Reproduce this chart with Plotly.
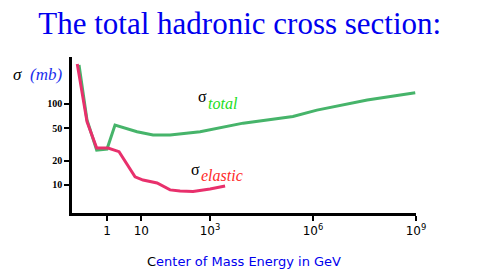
import plotly.graph_objects as go

# Data (energy in GeV, cross section in mb)
total_E = [0.153, 0.261, 0.50, 1.0, 1.71, 7.5, 21.9, 68.7, 514, 9230, 2.6e5, 1.3e6, 3.8e7, 9.5e8]
total_sigma = [303, 63.5, 27, 27.8, 55, 45.5, 41.4, 41.4, 45.5, 58, 70, 84, 112, 138]

elastic_E = [0.136, 0.261, 0.50, 1.07, 2.24, 6.55, 11.2, 28.7, 68.7, 134, 321, 1000, 2750]
elastic_sigma = [312, 60.4, 28.6, 28.6, 25.8, 12.6, 11.5, 10.6, 8.7, 8.4, 8.3, 8.9, 9.7]

x_tickvals = [1, 10, 1e3, 1e6, 1e9]
x_ticktext = ["1", "10", "10<sup>3</sup>", "10<sup>6</sup>", "10<sup>9</sup>"]
y_tickvals = [10, 20, 50, 100]
y_ticktext = ["<b>10</b>", "<b>20</b>", "<b>50</b>", "<b>100</b>"]

fig = go.Figure()
fig.add_trace(go.Scatter(x=total_E, y=total_sigma, mode="lines",
                         line=dict(color="#46b46a", width=3), hoverinfo="skip"))
fig.add_trace(go.Scatter(x=elastic_E, y=elastic_sigma, mode="lines",
                         line=dict(color="#e8306c", width=3), hoverinfo="skip"))

serif = "Liberation Serif"


def label(text, x, y, size, color):
    return dict(text=text, xref="paper", yref="paper", x=x, y=y,
                xanchor="left", yanchor="middle", showarrow=False,
                font=dict(family=serif, size=size, color=color))


fig.update_layout(
    width=490, height=271,
    margin=dict(l=64, r=82, t=49, b=66, autoexpand=False),
    paper_bgcolor="white", plot_bgcolor="white",
    showlegend=False,
    title=dict(text="The total hadronic cross section:",
               font=dict(family=serif, size=31, color="#0000ee"),
               x=0.473, xanchor="center", y=0.944, yanchor="middle", automargin=False),
    xaxis=dict(type="log", range=[-1.02, 9.0], automargin=False,
               tickvals=x_tickvals, ticktext=x_ticktext,
               ticks="outside", ticklen=5, tickwidth=2, tickcolor="black",
               showline=True, linecolor="black", linewidth=2.5,
               showgrid=False, zeroline=False,
               tickfont=dict(family="DejaVu Sans", size=12, color="black"),
               title=dict(text="C<span style='color:#0000ee'>enter of Mass Energy in GeV</span>",
                          font=dict(family="DejaVu Sans", size=13, color="black"),
                          standoff=20)),
    yaxis=dict(type="log", range=[0.654, 2.58], automargin=False,
               tickvals=y_tickvals, ticktext=y_ticktext,
               ticks="outside", ticklen=5, tickwidth=2, tickcolor="black",
               showline=True, linecolor="black", linewidth=2.5,
               showgrid=False, zeroline=False,
               tickfont=dict(family=serif, size=10, color="black")),
    annotations=[
        label("<i>σ</i>", -0.178, 0.885, 17, "black"),
        label("<i>(mb)</i>", -0.128, 0.885, 17, "#1a30ee"),
        label("σ", 0.36, 0.745, 16, "black"),
        label("<i>total</i>", 0.39, 0.705, 16, "#22dd22"),
        label("σ", 0.34, 0.28, 16, "black"),
        label("<i>elastic</i>", 0.37, 0.24, 16, "#ff2a2a"),
    ],
)

fig.write_html("out.html")
